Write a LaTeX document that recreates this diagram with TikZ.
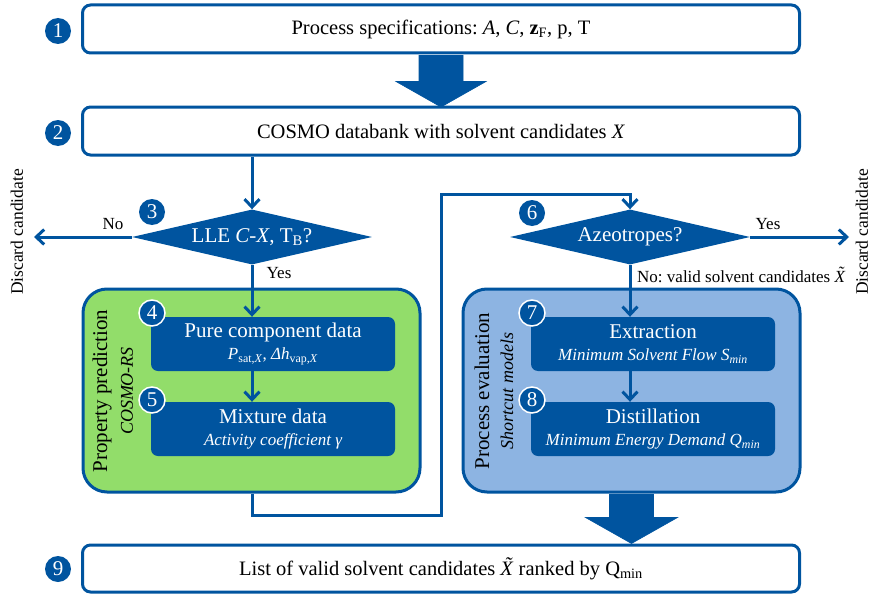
\documentclass[tikz,border=0pt]{standalone}
\usepackage{fontspec}
\setmainfont{Liberation Serif}
\usetikzlibrary{shapes.geometric,arrows.meta,calc}
\definecolor{dblue}{RGB}{0,84,159}
\definecolor{pgreen}{RGB}{146,221,106}
\definecolor{pblue}{RGB}{141,180,226}
\newcommand{\Xtil}{\textit{\makebox[0pt][l]{\hspace{0.2em}\raisebox{0.2em}{˜}}X}}
\frenchspacing
\begin{document}
\begin{tikzpicture}[x=1pt,y=-1pt,
  bigbox/.style={draw=dblue,line width=3pt,rounded corners=8pt,fill=white,minimum width=717pt,minimum height=48pt,inner sep=0pt,font=\fontsize{20.5}{24}\selectfont},
  numc/.style={circle,fill=dblue,text=white,minimum size=26pt,inner sep=0pt,font=\fontsize{21}{22}\selectfont},
  numw/.style={numc,draw=white,line width=1.5pt},
  panel/.style={draw=dblue,line width=3pt,rounded corners=24pt,minimum width=337pt,minimum height=203pt,inner sep=0pt},
  inbox/.style={fill=dblue,rounded corners=7pt,minimum width=244pt,minimum height=54pt,text=white,align=center,inner sep=0pt,font=\fontsize{21}{22}\selectfont},
  dec/.style={diamond,aspect=4.4,fill=dblue,text=white,minimum width=240pt,minimum height=55pt,inner sep=0pt,font=\fontsize{21}{22}\selectfont},
  conn/.style={draw=dblue,line width=3pt,-{Straight Barb[length=8pt,width=15pt]}},
  lbl/.style={font=\fontsize{17}{20}\selectfont,inner sep=0pt},
  side/.style={rotate=90,font=\fontsize{17.5}{20}\selectfont,inner sep=0pt},
  ptitle/.style={rotate=90,font=\fontsize{21}{22}\selectfont,inner sep=0pt},
  psub/.style={rotate=90,font=\fontsize{18}{20}\selectfont\itshape,inner sep=0pt},
  fat/.style={fill=dblue,draw=dblue,line width=0.6pt}
]
\useasboundingbox (0,0) rectangle (873,594);

% main boxes
\node[bigbox] (b1) at (441,29) {Process specifications: \textit{A}, \textit{C}, \textbf{z}\textsubscript{F}, p, T};
\node[bigbox] (b2) at (441,131) {COSMO databank with solvent candidates \textit{X}};
\node[bigbox,minimum height=47pt] (b9) at (441,568.5) {List of valid solvent candidates \Xtil\ ranked by Q\textsubscript{min}};

% fat arrows
\fill[fat] ($(b1.south)+(-22,1)$) -- ($(b1.south)+(-22,27)$) -- ($(b1.south)+(-45,27)$) -- ($(b1.south)+(0,52.5)$) -- ($(b1.south)+(45,27)$) -- ($(b1.south)+(22,27)$) -- ($(b1.south)+(22,1)$) -- cycle;

% panels
\node[panel,fill=pgreen] (pg) at (251.5,390.5) {};
\node[panel,fill=pblue] (pb) at (631.5,390.5) {};

\fill[fat] ($(pb.south)+(-22,1)$) -- ($(pb.south)+(-22,24)$) -- ($(pb.south)+(-46,24)$) -- ($(pb.south)+(0,50)$) -- ($(pb.south)+(46,24)$) -- ($(pb.south)+(22,24)$) -- ($(pb.south)+(22,1)$) -- cycle;

% inner boxes
\node[inbox] (b4) at (273,344) {Pure component data\\{\fontsize{17}{22}\selectfont\textit{P}\textsubscript{sat,\textit{X}}, \textit{Δh}\textsubscript{vap,\textit{X}}}};
\node[inbox] (b5) at (273,429) {Mixture data\\{\fontsize{17}{22}\selectfont\itshape Activity coefficient γ}};
\node[inbox] (b7) at (653,344) {Extraction\\{\fontsize{17}{22}\selectfont\itshape Minimum Solvent Flow S\textsubscript{min}}};
\node[inbox] (b8) at (653,429) {Distillation\\{\fontsize{17}{22}\selectfont\itshape Minimum Energy Demand Q\textsubscript{min}}};

% panel titles
\node[ptitle] (t1) at (102,391) {Property prediction};
\node[psub] (t2) at (127,391) {COSMO-RS};
\node[ptitle] (t3) at (482,391) {Process evaluation};
\node[psub] (t4) at (507,391) {Shortcut models};

% decisions
\node[dec] (d3) at (252,237) {LLE \textit{C-X}, T\textsubscript{B}?};
\node[dec] (d6) at (630,237) {Azeotropes?};

% discard labels
\node[side] (dl) at (17,232) {Discard candidate};
\node[side] (dr) at (862,232) {Discard candidate};
\coordinate (nl) at (34,237);
\coordinate (nr) at (849,237);

% connectors
\draw[conn] (b2.south -| d3.north) -- (d3.north);
\draw[conn] (d3.west) -- (nl);
\node[lbl] (no1) at (113,224) {No};
\draw[conn] (d3.south) -- (d3.south |- b4.north);
\node[lbl] (yes1) at (279,273) {Yes};
\draw[conn] (b4.south -| d3.south) -- (b5.north -| d3.south);

\coordinate (j1) at (441,515);
\coordinate (j2) at (441,194);
\draw[conn] (pg.south -| d3.south) |- (j1) -- (j2) -| (d6.north);

\draw[conn] (d6.east) -- (nr);
\node[lbl] (yes2) at (768,224) {Yes};
\draw[conn] (d6.south) -- (d6.south |- b7.north);
\node[lbl,anchor=west] (no2) at (637,275) {No: valid solvent candidates \Xtil};
\draw[conn] (b7.south -| d6.south) -- (b8.north -| d6.south);

% number circles
\node[numc] (c1) at (58,31) {1};
\node[numc] (c2) at (58,133) {2};
\node[numc] (c3) at (152,212) {3};
\node[numw] (c4) at (152,313) {4};
\node[numw] (c5) at (152,400) {5};
\node[numc] (c6) at (532,213) {6};
\node[numw] (c7) at (532,313) {7};
\node[numw] (c8) at (532,400) {8};
\node[numc] (c9) at (58,569) {9};
\end{tikzpicture}
\end{document}
